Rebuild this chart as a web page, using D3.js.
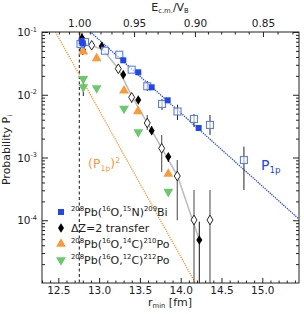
<!DOCTYPE html>
<html>
<head>
<meta charset="utf-8">
<script src="https://d3js.org/d3.v7.min.js"></script>
<style>
body{margin:0;background:#fff;}
text{font-family:"DejaVu Sans",sans-serif;fill:#222;}
</style>
</head>
<body>
<svg id="chart" width="304" height="314"></svg>
<script>
// 208Pb(16O,15N)209Bi, filled squares
var rN1 = [12.787, 12.80, 13.296, 13.480, 13.644, 13.840, 14.22];
var pN1 = [0.0711, 0.066, 0.0354, 0.0228, 0.01315, 0.00816, 0.00295];
// same reaction, open squares
var rN2 = [12.772, 12.827, 13.072, 13.247, 13.399, 13.590, 13.771, 13.961, 14.163, 14.359, 14.775];
var pN2 = [0.0644, 0.0693, 0.0503, 0.0434, 0.0251, 0.01365, 0.00713, 0.00541, 0.00411, 0.0033, 0.000912];
var pN2hi = [0.0644, 0.0693, 0.0503, 0.0434, 0.0251, 0.0166, 0.00855, 0.00693, 0.00493, 0.00475, 0.00149];
var pN2lo = [0.0644, 0.0693, 0.0503, 0.0434, 0.0251, 0.01148, 0.00571, 0.00396, 0.00306, 0.00229, 0.000303];
// dZ=2 transfer, filled diamonds
var rZ1 = [12.79, 12.81, 13.032, 13.296, 13.480, 13.644, 13.848, 14.228];
var pZ1 = [0.080, 0.0644, 0.0592, 0.0209, 0.00824, 0.00267, 0.00103, 4.84e-5];
var pZ1hi = [0.096, 0.0644, 0.0592, 0.0209, 0.00824, 0.00318, 0.00118, 9.5e-5];
var pZ1lo = [0.046, 0.0644, 0.0592, 0.0209, 0.00824, 0.00229, 0.000847, 8e-6];
// dZ=2 transfer, open diamonds
var rZ2 = [12.799, 12.909, 13.235, 13.399, 13.590, 13.767, 13.958, 14.163, 14.359];
var pZ2 = [0.0516, 0.0614, 0.026, 0.0091, 0.00355, 0.0014, 0.000507, 0.000101, 0.000101];
var pZ2hi = [0.0516, 0.0614, 0.026, 0.01067, 0.00475, 0.00229, 0.000912, 0.000303, 0.000303];
var pZ2lo = [0.0516, 0.0614, 0.026, 0.0074, 0.00274, 0.000594, 0.0001, 8e-6, 8e-6];
// 208Pb(16O,14C)210Po
var rC14 = [12.806, 12.970, 13.305, 13.476, 13.848];
var pC14 = [0.0485, 0.0381, 0.0116, 0.00545, 0.000546];
// 208Pb(16O,12C)212Po
var rC12 = [12.806, 12.806, 12.970, 13.305, 13.480, 13.848];
var pC12 = [0.018, 0.0132, 0.0128, 0.0060, 0.00255, 0.000285];
var pC12hi = [0.018, 0.01538, 0.0128, 0.0060, 0.00255, 0.000285];
var pC12lo = [0.018, 0.00955, 0.0128, 0.0060, 0.00255, 0.000285];
// gray guide line through the dZ=2 points
var rGuide = [12.796, 12.909, 13.05, 13.235, 13.40, 13.59, 13.77, 13.96, 14.23];
var pGuide = [0.064, 0.061, 0.052, 0.026, 0.0095, 0.00355, 0.0014, 0.00051, 4.8e-5];
// P1p fit: p = p1pRef * 10^(-slope*(r-r1pRef))
var p1pRef = 0.1, r1pRef = 12.894, p1pSlope = 1.1664;
var rBarrier = 12.757; // r_min at E/V_B = 1

var xTicks = [12.5, 13.0, 13.5, 14.0, 14.5, 15.0];
var eTicks = [1.00, 0.95, 0.90, 0.85];
var eMinor = [1.03, 1.02, 1.01, 0.99, 0.98, 0.97, 0.96, 0.94, 0.93, 0.92, 0.91, 0.89, 0.88, 0.87, 0.86, 0.84, 0.83];
var yTicks = [1e-1, 1e-2, 1e-3, 1e-4];
var yTickExp = ["-1", "-2", "-3", "-4"];

var svg = d3.select("#chart");
var x = d3.scaleLinear().domain([12.3, 15.45]).range([42, 299]);
var y = d3.scaleLog().domain([1e-5, 1e-1]).range([283, 32]);
var u = d3.scaleLinear().domain([12.3 / rBarrier, 15.45 / rBarrier]).range([42, 299]);

var blue = "#2346e8", lblue = "#5b7ef2", orange = "#fb9a3a", green = "#6cc86c";

svg.append("clipPath").attr("id", "clip").append("rect")
  .attr("x", 42).attr("y", 32).attr("width", 257).attr("height", 251);

var plot = svg.append("g").attr("clip-path", "url(#clip)");

function p1p(r) { return p1pRef * Math.pow(10, -p1pSlope * (r - r1pRef)); }
var rLine = d3.range(12.3, 15.46, 0.02);

// (P1p)^2
plot.append("path")
  .attr("d", d3.line().x(function(r){ return x(r); }).y(function(r){ return y(p1p(r) * p1p(r)); })(rLine))
  .attr("fill", "none").attr("stroke", orange).attr("stroke-width", 1.3).attr("stroke-dasharray", "1.3,1");
// P1p
plot.append("path")
  .attr("d", d3.line().x(function(r){ return x(r); }).y(function(r){ return y(p1p(r)); })(rLine))
  .attr("fill", "none").attr("stroke", blue).attr("stroke-width", 1.3).attr("stroke-dasharray", "1.3,1");
// barrier line
plot.append("line")
  .attr("x1", x(rBarrier)).attr("x2", x(rBarrier)).attr("y1", 32).attr("y2", 283)
  .attr("stroke", "#111").attr("stroke-width", 1).attr("stroke-dasharray", "3,2.5");
// guide
plot.append("path")
  .attr("d", d3.line().x(function(d){ return x(d[0]); }).y(function(d){ return y(d[1]); })(d3.zip(rGuide, pGuide)))
  .attr("fill", "none").attr("stroke", "#bbb").attr("stroke-width", 1.5);

function errBars(r, lo, hi, color, w) {
  plot.append("g").selectAll("line")
    .data(d3.zip(r, lo, hi).filter(function(d){ return d[1] !== d[2]; }))
    .enter().append("line")
    .attr("x1", function(d){ return x(d[0]); }).attr("x2", function(d){ return x(d[0]); })
    .attr("y1", function(d){ return y(d[1]); }).attr("y2", function(d){ return y(d[2]); })
    .attr("stroke", color).attr("stroke-width", w);
}
errBars(rZ2, pZ2lo, pZ2hi, "#555", 1.1);
errBars(rZ1, pZ1lo, pZ1hi, "#111", 1);
errBars(rN2, pN2lo, pN2hi, "#222", 1);
errBars(rC12, pC12lo, pC12hi, "#222", 1);

var diamond = "M0,-4.8L3,0L0,4.8L-3,0Z";
var tri = d3.symbol().type(d3.symbolTriangle).size(42)();

plot.append("g").selectAll("path").data(d3.zip(rZ2, pZ2)).enter().append("path")
  .attr("d", diamond).attr("transform", function(d){ return "translate(" + x(d[0]) + "," + y(d[1]) + ")"; })
  .attr("fill", "#fff").attr("stroke", "#111").attr("stroke-width", 0.9);
plot.append("g").selectAll("path").data(d3.zip(rZ1, pZ1)).enter().append("path")
  .attr("d", diamond).attr("transform", function(d){ return "translate(" + x(d[0]) + "," + y(d[1]) + ")"; })
  .attr("fill", "#000");
plot.append("g").selectAll("path").data(d3.zip(rC14, pC14)).enter().append("path")
  .attr("d", tri).attr("transform", function(d){ return "translate(" + x(d[0]) + "," + y(d[1]) + ")"; })
  .attr("fill", orange);
plot.append("g").selectAll("path").data(d3.zip(rC12, pC12)).enter().append("path")
  .attr("d", tri).attr("transform", function(d){ return "translate(" + x(d[0]) + "," + y(d[1]) + ") rotate(180)"; })
  .attr("fill", green);
plot.append("g").selectAll("rect").data(d3.zip(rN2, pN2)).enter().append("rect")
  .attr("x", function(d){ return x(d[0]) - 3.5; }).attr("y", function(d){ return y(d[1]) - 3.5; })
  .attr("width", 7).attr("height", 7)
  .attr("fill", "#fff").attr("fill-opacity", 0.6).attr("stroke", lblue).attr("stroke-width", 1.1);
plot.append("g").selectAll("rect").data(d3.zip(rN1, pN1)).enter().append("rect")
  .attr("x", function(d){ return x(d[0]) - 3; }).attr("y", function(d){ return y(d[1]) - 3; })
  .attr("width", 6).attr("height", 6).attr("fill", blue);

// axes
var axStroke = "#222";
function styleAxis(g) {
  g.select(".domain").remove();
  g.selectAll("line").attr("stroke", axStroke);
  g.selectAll("text").attr("font-size", "10.5px").attr("font-family", "DejaVu Sans").attr("fill", "#222");
}
var xMinor = d3.range(123, 155).map(function(v){ return v / 10; }).filter(function(v){ return xTicks.indexOf(v) < 0; });
svg.append("g").attr("transform", "translate(0,283)")
  .call(d3.axisBottom(x).tickValues(xTicks).tickSize(-5).tickPadding(4).tickFormat(d3.format(".1f"))).call(styleAxis);
svg.append("g").attr("transform", "translate(0,283)")
  .call(d3.axisBottom(x).tickValues(xMinor).tickSize(-2.5).tickFormat("")).call(styleAxis);
svg.append("g").attr("transform", "translate(0,32)")
  .call(d3.axisTop(u).tickValues(eTicks.map(function(e){ return 1 / e; })).tickSize(-5).tickPadding(5)
    .tickFormat(function(v){ return d3.format(".2f")(1 / v); })).call(styleAxis);
svg.append("g").attr("transform", "translate(0,32)")
  .call(d3.axisTop(u).tickValues(eMinor.map(function(e){ return 1 / e; })).tickSize(-2.5).tickFormat("")).call(styleAxis);

var yMinor = [];
[-5, -4, -3, -2].forEach(function(k){ for (var m = 2; m < 10; m++) yMinor.push(m * Math.pow(10, k)); });
svg.append("g").attr("transform", "translate(42,0)")
  .call(d3.axisLeft(y).tickValues(yTicks).tickSize(-6).tickFormat("")).call(styleAxis);
svg.append("g").attr("transform", "translate(42,0)")
  .call(d3.axisLeft(y).tickValues(yMinor).tickSize(-3).tickFormat("")).call(styleAxis);
svg.append("g").attr("transform", "translate(299,0)")
  .call(d3.axisRight(y).tickValues(yTicks).tickSize(-6).tickFormat("")).call(styleAxis);
svg.append("g").attr("transform", "translate(299,0)")
  .call(d3.axisRight(y).tickValues(yMinor).tickSize(-3).tickFormat("")).call(styleAxis);

svg.append("rect").attr("x", 42).attr("y", 32).attr("width", 257).attr("height", 251)
  .attr("fill", "none").attr("stroke", axStroke).attr("stroke-width", 1);

// rich text helper: parts = [[text, "n"|"sup"|"sub"], ...]
function rich(sel, parts, size) {
  var shift = 0;
  parts.forEach(function(p){
    var target = p[1] === "sup" ? -size * 0.42 : p[1] === "sub" ? size * 0.22 : 0;
    sel.append("tspan").attr("dy", target - shift)
      .attr("font-size", (p[1] === "n" ? size : size * 0.62) + "px").text(p[0]);
    shift = target;
  });
}

svg.selectAll(".ylab").data(d3.zip(yTicks, yTickExp)).enter().append("text")
  .attr("x", 37).attr("y", function(d){ return y(d[0]) + 4; }).attr("text-anchor", "end")
  .each(function(d){ rich(d3.select(this), [["10", "n"], [d[1], "sup"]], 10.5); });

rich(svg.append("text").attr("transform", "translate(10,150) rotate(-90)").attr("text-anchor", "middle"),
  [["Probability P", "n"], ["i", "sub"]], 11);
rich(svg.append("text").attr("x", 170).attr("y", 306).attr("text-anchor", "middle"),
  [["r", "n"], ["min", "sub"], [" [fm]", "n"]], 11);
rich(svg.append("text").attr("x", 170).attr("y", 11).attr("text-anchor", "middle"),
  [["E", "n"], ["c.m.", "sub"], ["/V", "n"], ["B", "sub"]], 11);

rich(svg.append("text").attr("x", 261).attr("y", 170).style("fill", blue),
  [["P", "n"], ["1p", "sub"]], 14);
rich(svg.append("text").attr("x", 88).attr("y", 168).style("fill", orange),
  [["(P", "n"], ["1p", "sub"], [")", "n"], ["2", "sup"]], 12.5);

// legend
var legLabels = [
  [["208", "sup"], ["Pb(", "n"], ["16", "sup"], ["O,", "n"], ["15", "sup"], ["N)", "n"], ["209", "sup"], ["Bi", "n"]],
  [["\u0394Z=2 transfer", "n"]],
  [["208", "sup"], ["Pb(", "n"], ["16", "sup"], ["O,", "n"], ["14", "sup"], ["C)", "n"], ["210", "sup"], ["Po", "n"]],
  [["208", "sup"], ["Pb(", "n"], ["16", "sup"], ["O,", "n"], ["12", "sup"], ["C)", "n"], ["212", "sup"], ["Po", "n"]]
];
var legY = [212, 228, 244, 260];
var leg = svg.append("g");
leg.append("rect").attr("x", 58).attr("y", legY[0] - 3).attr("width", 6).attr("height", 6).attr("fill", blue);
leg.append("path").attr("d", diamond).attr("transform", "translate(61," + legY[1] + ")").attr("fill", "#000");
leg.append("path").attr("d", tri).attr("transform", "translate(61," + legY[2] + ")").attr("fill", orange);
leg.append("path").attr("d", tri).attr("transform", "translate(61," + legY[3] + ") rotate(180)").attr("fill", green);
legLabels.forEach(function(parts, i){
  rich(leg.append("text").attr("x", 71).attr("y", legY[i] + 4), parts, 11);
});
</script>
</body>
</html>
